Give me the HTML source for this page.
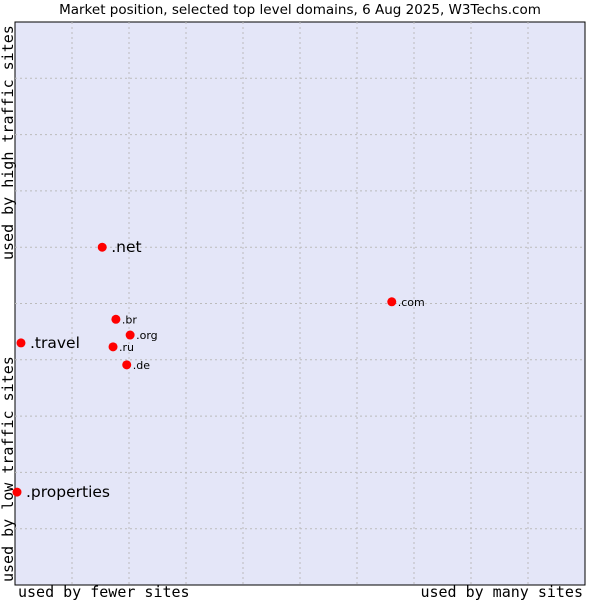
<!DOCTYPE html>
<html><head><meta charset="utf-8"><style>
body{margin:0;background:#fff;width:600px;height:600px;overflow:hidden}
text{font-family:"DejaVu Sans","Liberation Sans",sans-serif}
.mono{font-family:"DejaVu Sans Mono","Liberation Mono",monospace}
</style></head><body>
<svg id="chart" width="600" height="600" xmlns="http://www.w3.org/2000/svg">
<text x="300" y="14" text-anchor="middle" font-size="13.5" fill="#000">Market position, selected top level domains, 6 Aug 2025, W3Techs.com</text>
<rect x="15" y="22" width="570" height="563" fill="#e4e6f8" stroke="#000" stroke-width="1"/>
<g id="grid"></g>
<g id="points"></g>
<text class="mono" x="18" y="597" font-size="15">used by fewer sites</text>
<text class="mono" x="583" y="597" font-size="15" text-anchor="end">used by many sites</text>
<text class="mono" transform="translate(13,582) rotate(-90)" font-size="15">used by low traffic sites</text>
<text class="mono" transform="translate(13,260) rotate(-90)" font-size="15">used by high traffic sites</text>
</svg>
<script>
const labels=[".net",".com",".br",".org",".ru",".de",".travel",".properties"];
const xValues=[15.3,66.1,17.7,20.2,17.2,19.6,1.05,0.35];
const yValues=[60,50.3,47.2,44.4,42.3,39.1,43,16.5];
const bigLabel=[true,false,false,false,false,false,true,true];
const L=15,R=585,T=22,B=585;
const sx=v=>L+v/100*(R-L), sy=v=>B-v/100*(B-T);
const NS="http://www.w3.org/2000/svg";
const grid=document.getElementById('grid');
for(let i=1;i<10;i++){
  const gx=document.createElementNS(NS,'line');
  
  
  gx.setAttribute('x1',sx(i*10));gx.setAttribute('x2',sx(i*10));gx.setAttribute('y1',T);gx.setAttribute('y2',B);
  gx.setAttribute('stroke','#bbb');gx.setAttribute('stroke-dasharray','2,3');
  grid.appendChild(gx);
  const gy=document.createElementNS(NS,'line');
  
  
  gy.setAttribute('y1',sy(i*10));gy.setAttribute('y2',sy(i*10));gy.setAttribute('x1',L);gy.setAttribute('x2',R);
  gy.setAttribute('stroke','#bbb');gy.setAttribute('stroke-dasharray','2,3');
  grid.appendChild(gy);
}
const pts=document.getElementById('points');
labels.forEach((lb,i)=>{
  const x=sx(xValues[i]),y=sy(yValues[i]);
  const c=document.createElementNS(NS,'circle');
  
  
  c.setAttribute('cx',x);c.setAttribute('cy',y);c.setAttribute('r',4.5);c.setAttribute('fill','#f00');
  pts.appendChild(c);
  const t=document.createElementNS(NS,'text');
  
  
  t.setAttribute('x',x+(bigLabel[i]?9:6));t.setAttribute('y',y+(bigLabel[i]?5:4));
  t.setAttribute('font-size',bigLabel[i]?15.5:11);
  t.textContent=lb;
  pts.appendChild(t);
});
</script>
</body></html>
